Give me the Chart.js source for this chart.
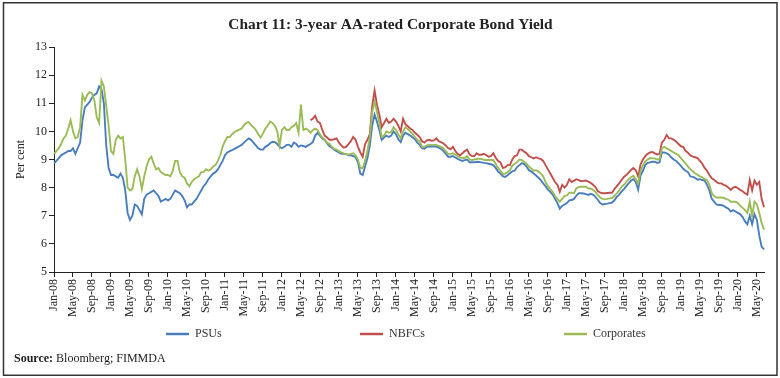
<!DOCTYPE html>
<html>
<head>
<meta charset="utf-8">
<script src="https://cdn.jsdelivr.net/npm/chart.js@4.4.1/dist/chart.umd.min.js"></script>
<style>
html,body{margin:0;padding:0;background:#fff;}
#wrap{width:780px;height:378px;position:relative;}
</style>
</head>
<body>
<div id="wrap"><canvas id="c" width="780" height="378"></canvas></div>
<script>
// ---- Data (semi-monthly readings, Jan-08 to Jun-20) ----
const monthNames = ['Jan','Feb','Mar','Apr','May','Jun','Jul','Aug','Sep','Oct','Nov','Dec'];
const categories = [];
for (let y = 2008; y <= 2020; y++) {
  for (let m = 0; m < 12; m++) {
    if (y === 2020 && m > 5) break;
    const lab = monthNames[m] + '-' + String(y).slice(2);
    categories.push(lab + ' (1)');
    categories.push(lab + ' (2)');
  }
}

const tickLabels = ['Jan-08','May-08','Sep-08','Jan-09','May-09','Sep-09','Jan-10','May-10','Sep-10',
  'Jan-11','May-11','Sep-11','Jan-12','May-12','Sep-12','Jan-13','May-13','Sep-13',
  'Jan-14','May-14','Sep-14','Jan-15','May-15','Sep-15','Jan-16','May-16','Sep-16',
  'Jan-17','May-17','Sep-17','Jan-18','May-18','Sep-18','Jan-19','May-19','Sep-19',
  'Jan-20','May-20'];

const psus = [
  8.86, 8.95, 9.05, 9.15, 9.2, 9.25, 9.3, 9.3, 9.4, 9.2, 9.4, 9.6, 10.4, 10.85, 10.95,
  11.05, 11.2, 11.3, 11.35, 11.6, 11.5, 11.0, 9.5, 8.7, 8.45, 8.45, 8.4, 8.35, 8.5, 8.35,
  7.9, 7.1, 6.85, 7.0, 7.4, 7.35, 7.2, 7.05, 7.6, 7.75, 7.8, 7.85, 7.9, 7.8, 7.7,
  7.5, 7.55, 7.6, 7.55, 7.6, 7.75, 7.9, 7.85, 7.8, 7.7, 7.55, 7.3, 7.4, 7.4, 7.5,
  7.6, 7.75, 7.9, 8.05, 8.15, 8.3, 8.4, 8.5, 8.55, 8.65, 8.8, 8.95, 9.15, 9.25, 9.3,
  9.33, 9.38, 9.42, 9.47, 9.52, 9.6, 9.68, 9.75, 9.7, 9.6,
  9.5, 9.4, 9.35, 9.35, 9.45, 9.5, 9.58, 9.63, 9.62, 9.55,
  9.45, 9.4, 9.45, 9.52, 9.52, 9.45, 9.6, 9.55, 9.45, 9.5,
  9.48, 9.45, 9.5, 9.55, 9.62, 9.85, 9.95, 9.85, 9.75, 9.7,
  9.58, 9.47, 9.42, 9.35, 9.3, 9.25, 9.2, 9.2, 9.2, 9.15,
  9.15, 9.12, 9.08, 8.9, 8.5, 8.45, 8.75, 9.05, 9.5, 10.2,
  10.6, 10.35, 10.05, 9.7, 9.78, 9.85, 9.8, 9.85, 10.0, 9.9,
  9.72, 9.62, 9.85,
  9.95, 9.9, 9.85, 9.78, 9.72, 9.6, 9.52, 9.4, 9.38, 9.45,
  9.46, 9.46, 9.46, 9.46, 9.42, 9.38, 9.3, 9.2, 9.1, 9.1,
  9.12, 9.07, 9.02, 8.98, 8.95, 8.98, 9.0, 8.9, 8.9, 8.9,
  8.92, 8.91, 8.9, 8.88, 8.87, 8.85, 8.83, 8.8, 8.7, 8.57,
  8.5, 8.41, 8.38, 8.44, 8.51, 8.58, 8.6, 8.73, 8.8, 8.87,
  8.84, 8.75, 8.62, 8.57, 8.5, 8.43, 8.35, 8.27, 8.15, 8.05,
  7.93, 7.85, 7.75, 7.6, 7.45, 7.25, 7.35, 7.4, 7.45, 7.55,
  7.56, 7.6, 7.72, 7.8,
  7.8, 7.79, 7.77, 7.74, 7.78, 7.75, 7.67, 7.57, 7.45, 7.4,
  7.42, 7.43, 7.45, 7.47, 7.55, 7.67, 7.75, 7.86, 7.95, 8.05,
  8.15, 8.25, 8.3, 8.2, 7.93, 8.43, 8.6, 8.8, 8.88, 8.9,
  8.92, 8.92, 8.88, 8.9, 9.25, 9.25, 9.22, 9.17, 9.07, 9.0,
  8.95, 8.86, 8.77, 8.67, 8.6, 8.55, 8.4, 8.38, 8.35, 8.28,
  8.3, 8.27, 8.25, 8.1, 7.9, 7.6, 7.5, 7.4, 7.38, 7.38,
  7.35, 7.3, 7.25, 7.15, 7.2, 7.15, 7.1, 7.05, 6.95, 6.8,
  6.7, 7.0, 6.7, 7.05, 6.85, 6.3, 5.9, 5.8
];

const nbfcs = [
  null,null,null,null,null,null,null,null,null,null,null,null,null,null,null,null,null,null,
  null,null,null,null,null,null,null,null,null,null,null,null,null,null,null,null,null,null,
  null,null,null,null,null,null,null,null,null,null,null,null,null,null,null,null,null,null,
  null,null,null,null,null,null,null,null,null,null,null,null,null,null,null,null,null,null,
  null,null,null,null,null,null,null,null,null,null,null,null,null,null,null,null,null,null,
  null,null,null,null,null,null,null,null,null,null,null,null,null,null,null,null,null,null,
  10.4, 10.45, 10.55, 10.35, 10.3, 10.05, 9.85, 9.78, 9.7, 9.7,
  9.72, 9.75, 9.6, 9.5, 9.42, 9.45, 9.55, 9.65, 9.8, 9.7,
  9.45, 9.25, 9.1, 9.55, 9.7, 9.9, 10.9, 11.45, 10.95, 10.6,
  10.15, 10.3, 10.45, 10.3, 10.35, 10.45, 10.35, 10.2, 10.0, 10.45,
  10.25, 10.18, 10.1, 10.05, 9.95, 9.88, 9.8, 9.65, 9.6, 9.68,
  9.7, 9.67, 9.68, 9.75, 9.65, 9.62, 9.57, 9.5, 9.4, 9.37,
  9.45, 9.3, 9.2, 9.15, 9.22, 9.3, 9.35, 9.18, 9.12, 9.12,
  9.22, 9.17, 9.17, 9.2, 9.16, 9.1, 9.12, 9.22, 9.06, 8.95,
  8.9, 8.7, 8.72, 8.8, 8.8, 9.0, 9.12, 9.15, 9.35, 9.35,
  9.28, 9.22, 9.12, 9.08, 9.04, 9.08, 9.04, 9.02, 8.95, 8.8,
  8.65, 8.5, 8.35, 8.2, 8.1, 7.85, 8.1, 8.0, 8.1, 8.3,
  8.2, 8.25, 8.3, 8.27,
  8.23, 8.24, 8.25, 8.21, 8.17, 8.1, 8.02, 7.88, 7.82, 7.8,
  7.8, 7.81, 7.82, 7.82, 7.95, 8.05, 8.15, 8.27, 8.38, 8.45,
  8.53, 8.63, 8.7, 8.62, 8.4, 8.82, 9.0, 9.12, 9.2, 9.25,
  9.27, 9.22, 9.18, 9.2, 9.6, 9.7, 9.87, 9.75, 9.75, 9.7,
  9.64, 9.55, 9.47, 9.45, 9.3, 9.24, 9.15, 9.1, 9.08, 9.05,
  8.95, 8.85, 8.7, 8.6, 8.45, 8.33, 8.28, 8.2, 8.15, 8.15,
  8.1, 8.07, 8.0, 7.92, 8.0, 8.03, 7.98, 7.92, 7.87, 7.8,
  7.75, 8.27, 7.9, 8.25, 8.1, 8.2, 7.6, 7.3
];

const corporates = [
  9.2, 9.3, 9.4, 9.55, 9.75, 9.85, 10.1, 10.4, 10.0, 9.75, 9.8, 10.15, 11.3, 11.1, 11.3,
  11.4, 11.35, 11.1, 10.5, 10.3, 11.8, 11.6, 10.9, 10.2, 9.3, 9.2, 9.7, 9.85, 9.75, 9.8,
  9.0, 8.0, 7.9, 7.95, 8.4, 8.65, 8.4, 7.95, 8.4, 8.75, 9.0, 9.1, 8.85, 8.65, 8.7,
  8.55, 8.5, 8.45, 8.45, 8.4, 8.6, 8.95, 8.95, 8.55, 8.4, 8.35, 8.15, 8.05, 8.2, 8.3,
  8.35, 8.4, 8.55, 8.55, 8.65, 8.6, 8.65, 8.75, 8.8, 8.95, 9.15, 9.45, 9.65, 9.8, 9.8,
  9.9, 9.98, 10.02, 10.06, 10.1, 10.22, 10.3, 10.33, 10.22, 10.15,
  10.05, 9.9, 9.78, 9.92, 10.1, 10.2, 10.35, 10.3, 10.2, 10.0,
  9.5, 10.05, 10.15, 10.05, 10.05, 10.15, 10.2, 10.3, 9.95, 10.95,
  10.05, 10.1, 10.05, 9.95, 10.05, 10.1, 10.05, 9.9, 9.78, 9.7,
  9.6, 9.55, 9.45, 9.38, 9.35, 9.3, 9.25, 9.22, 9.2, 9.17,
  9.2, 9.22, 9.15, 9.0, 8.7, 8.7, 8.95, 9.3, 9.8, 10.7,
  11.05, 10.7, 10.3, 9.8, 9.85, 10.0, 9.95, 9.98, 10.15, 10.05,
  9.9, 9.75, 10.0,
  10.15, 10.08, 10.0, 9.9, 9.8, 9.7, 9.65, 9.45, 9.45, 9.5,
  9.52, 9.52, 9.52, 9.52, 9.48, 9.45, 9.4, 9.3, 9.2, 9.2,
  9.22, 9.18, 9.12, 9.08, 9.05, 9.06, 9.12, 9.0, 8.98, 9.0,
  9.02, 9.03, 9.02, 8.99, 8.98, 8.98, 8.98, 8.98, 8.85, 8.7,
  8.6, 8.48, 8.5, 8.55, 8.62, 8.78, 8.85, 8.9, 9.0, 8.98,
  8.92, 8.85, 8.75, 8.68, 8.6, 8.62, 8.57, 8.5, 8.4, 8.2,
  8.05, 7.95, 7.85, 7.7, 7.6, 7.5, 7.6, 7.7, 7.72, 7.82,
  7.82, 7.8, 7.98, 8.02,
  8.03, 8.03, 8.03, 7.97, 7.97, 7.92, 7.85, 7.74, 7.65, 7.6,
  7.59, 7.6, 7.62, 7.63, 7.7, 7.8, 7.9, 8.03, 8.1, 8.2,
  8.3, 8.37, 8.42, 8.3, 8.15, 8.6, 8.78, 8.93, 9.0, 9.05,
  9.04, 9.04, 9.0, 9.0, 9.4, 9.45, 9.4, 9.35, 9.3, 9.25,
  9.2, 9.15, 9.05, 8.95, 8.85, 8.75, 8.65, 8.58, 8.5, 8.46,
  8.4, 8.37, 8.3, 8.27, 8.1, 7.8, 7.7, 7.65, 7.65, 7.65,
  7.63, 7.6, 7.57, 7.5, 7.5, 7.5, 7.45, 7.35, 7.28, 7.2,
  7.1, 7.5, 7.0, 7.5, 7.4, 7.1, 6.75, 6.5
];

const seriesNames = ['PSUs', 'NBFCs', 'Corporates'];
const seriesColors = ['#4a7ebb', '#c0504d', '#9bbb59'];
const titleText = 'Chart 11: 3-year AA-rated Corporate Bond Yield';
const yAxisTitle = 'Per cent';
const sourceLabel = 'Source:';
const sourceText = ' Bloomberg; FIMMDA';

// ---- Chart ----
const SERIF = '"Liberation Serif", "DejaVu Serif", serif';

const decorPlugin = {
  id: 'decor',
  beforeDraw(chart) {
    const ctx = chart.ctx;
    ctx.save();
    ctx.fillStyle = '#ffffff';
    ctx.fillRect(0, 0, chart.width, chart.height);
    ctx.restore();
  },
  afterDraw(chart) {
    const ctx = chart.ctx;
    ctx.save();
    // frame
    ctx.strokeStyle = '#333333';
    ctx.lineWidth = 1.5;
    ctx.strokeRect(3.5, 2.75, 773.5, 372.5);
    // title
    ctx.fillStyle = '#222222';
    ctx.font = 'bold 15.4px ' + SERIF;
    ctx.textAlign = 'center';
    ctx.textBaseline = 'alphabetic';
    ctx.fillText(titleText, 390.5, 29);
    // legend
    const legendX = [166, 360, 564];
    const ly = 334;
    ctx.font = '12px ' + SERIF;
    ctx.textAlign = 'left';
    ctx.textBaseline = 'middle';
    chart.data.datasets.forEach((ds, k) => {
      ctx.strokeStyle = ds.borderColor;
      ctx.lineWidth = 2.5;
      ctx.beginPath();
      ctx.moveTo(legendX[k], ly);
      ctx.lineTo(legendX[k] + 23, ly);
      ctx.stroke();
      ctx.fillStyle = '#333333';
      ctx.fillText(ds.label, legendX[k] + 29, ly);
    });
    // source
    ctx.textBaseline = 'alphabetic';
    ctx.font = 'bold 12px ' + SERIF;
    ctx.fillStyle = '#222222';
    ctx.fillText(sourceLabel, 14, 362);
    const w = ctx.measureText(sourceLabel).width;
    ctx.font = '12px ' + SERIF;
    ctx.fillText(sourceText, 14 + w, 362);
    ctx.restore();
  }
};

const datasets = [psus, nbfcs, corporates].map((arr, k) => ({
  label: seriesNames[k],
  data: arr,
  borderColor: seriesColors[k],
  backgroundColor: seriesColors[k],
  borderWidth: 1.9,
  pointRadius: 0,
  tension: 0,
  spanGaps: false,
  order: 3 - k
}));

new Chart(document.getElementById('c'), {
  type: 'line',
  data: { labels: categories, datasets: datasets },
  options: {
    responsive: false,
    animation: false,
    devicePixelRatio: 1,
    layout: { padding: { left: 0, right: 16, top: 47, bottom: 46 } },
    plugins: {
      legend: { display: false },
      title: { display: false },
      tooltip: { enabled: false }
    },
    scales: {
      x: {
        type: 'category',
        offset: false,
        afterBuildTicks: (axis) => { axis.ticks = axis.ticks.filter(t => t.value % 8 === 0); },
        afterFit: (axis) => { axis.height = 60; },
        grid: { display: true, drawOnChartArea: false, drawTicks: true, tickLength: 5, color: '#222222', lineWidth: 1 },
        border: { display: true, color: '#222222', width: 1 },
        ticks: {
          autoSkip: false,
          minRotation: 90,
          maxRotation: 90,
          padding: 2,
          color: '#222222',
          font: { family: SERIF, size: 12 },
          callback: (v) => tickLabels[v / 8]
        }
      },
      y: {
        min: 5,
        max: 13,
        afterFit: (axis) => { axis.width = 54; },
        grid: { display: true, drawOnChartArea: false, drawTicks: true, tickLength: 5, color: '#222222', lineWidth: 1 },
        border: { display: true, color: '#222222', width: 1 },
        ticks: {
          stepSize: 1,
          padding: 2,
          color: '#222222',
          font: { family: SERIF, size: 12 }
        },
        title: {
          display: true,
          text: yAxisTitle,
          color: '#222222',
          font: { family: SERIF, size: 12 },
          padding: { top: 14, bottom: 0 }
        }
      }
    }
  },
  plugins: [decorPlugin]
});
</script>
</body>
</html>
